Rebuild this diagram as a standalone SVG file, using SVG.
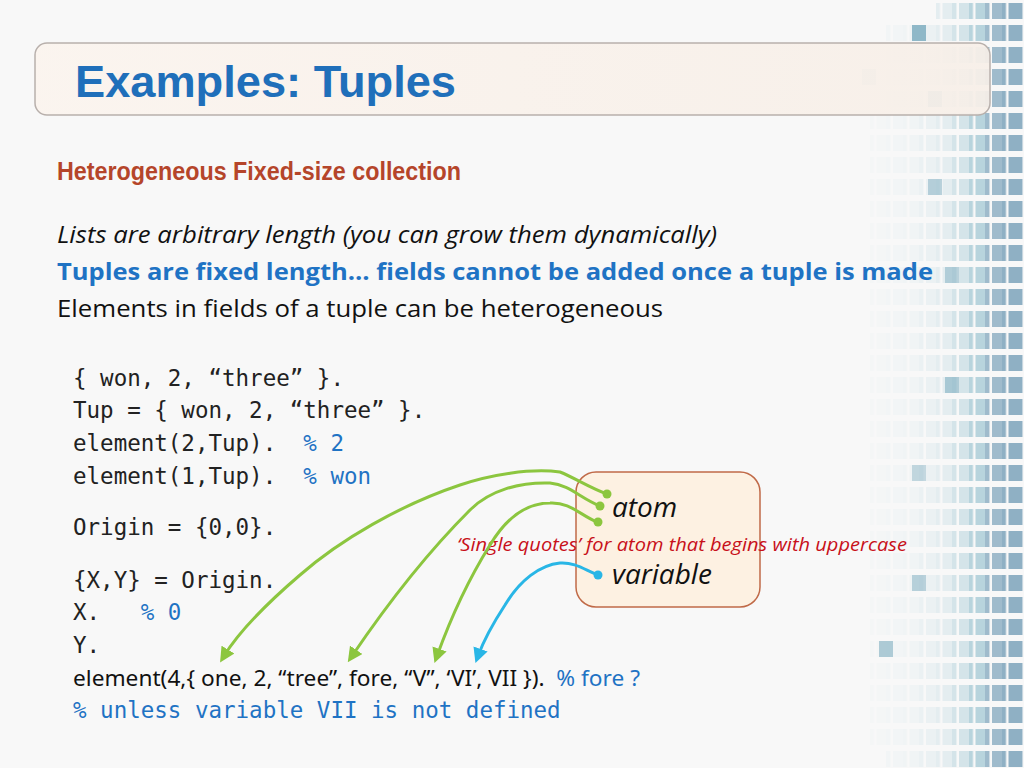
<svg xmlns="http://www.w3.org/2000/svg" width="1024" height="768" viewBox="0 0 1024 768">
<defs>
<style>
text{white-space:pre}
.code{font-family:"DejaVu Sans Mono",monospace;font-size:22.5px;fill:#222}
.cm{fill:#1f73c4}
.body{font-family:"Open Sans","Noto Sans",sans-serif;font-size:24px;fill:#111}
.g{fill:none;stroke:#8cc63f;stroke-width:3;stroke-linecap:round}
.b{fill:none;stroke:#29b6e6;stroke-width:3;stroke-linecap:round}
</style>
<pattern id="cells" x="2" y="0" width="16.5" height="22" patternUnits="userSpaceOnUse"><rect x="0" y="3" width="14" height="16" fill="#8fb0c4"/></pattern>
<pattern id="cellsL" x="2" y="0" width="16.5" height="22" patternUnits="userSpaceOnUse"><rect x="0" y="3" width="14" height="16" fill="#a8cbd6"/></pattern>
<linearGradient id="tb" x1="0" x2="1"><stop offset="0" stop-color="#fbf4ee"/><stop offset="1" stop-color="#f7efe8"/></linearGradient>
<marker id="ag" viewBox="0 0 10 10" refX="5" refY="5" markerWidth="5" markerHeight="5" orient="auto-start-reverse"><path d="M0,0L10,5L0,10z" fill="#8cc63f"/></marker>
<marker id="ab" viewBox="0 0 10 10" refX="5" refY="5" markerWidth="5" markerHeight="5" orient="auto-start-reverse"><path d="M0,0L10,5L0,10z" fill="#29b6e6"/></marker>
</defs>
<rect width="1024" height="768" fill="#f8f8f8"/>
<g id="bg">
<rect x="1002" y="0" width="22" height="768" fill="url(#cells)"/>
<rect x="985" y="0" width="17" height="768" fill="url(#cells)" opacity="0.85"/>
<rect x="969" y="0" width="16" height="768" fill="url(#cellsL)" opacity="0.8"/>
<rect x="952" y="0" width="17" height="768" fill="url(#cellsL)" opacity="0.45"/>
<rect x="936" y="0" width="16" height="768" fill="url(#cellsL)" opacity="0.25"/>
<rect x="919" y="22" width="17" height="746" fill="url(#cellsL)" opacity="0.16"/>
<rect x="903" y="22" width="16" height="746" fill="url(#cellsL)" opacity="0.1"/>
<rect x="886" y="22" width="17" height="746" fill="url(#cellsL)" opacity="0.07"/>
<rect x="870" y="110" width="16" height="640" fill="url(#cellsL)" opacity="0.05"/>
<g fill="#8fb8c8">
<rect x="912" y="25" width="14" height="16"/><rect x="928" y="91" width="14" height="16" opacity="0.8"/><rect x="862" y="69" width="14" height="16" opacity="0.4"/>
<rect x="945" y="377" width="14" height="16" opacity="0.7"/><rect x="912" y="575" width="14" height="16" opacity="0.6"/><rect x="879" y="641" width="14" height="16" opacity="0.7"/>
<rect x="928" y="179" width="14" height="16" opacity="0.6"/><rect x="945" y="267" width="14" height="16" opacity="0.6"/><rect x="912" y="465" width="14" height="16" opacity="0.5"/>
</g>
</g>
<g id="title">
<rect x="35" y="43" width="955" height="72" rx="12" fill="url(#tb)" fill-opacity="0.92" stroke="#b8b0ac" stroke-width="1.5"/>
<text x="75" y="97" font-family="Liberation Sans,Arial,sans-serif" font-weight="bold" font-size="44" fill="#1f6fba" textLength="381" lengthAdjust="spacingAndGlyphs">Examples: Tuples</text>
</g>
<text x="57" y="180" font-family="Liberation Sans,sans-serif" font-weight="bold" font-size="26" fill="#b5452a" textLength="404" lengthAdjust="spacingAndGlyphs">Heterogeneous Fixed-size collection</text>
<text x="57" y="243" class="body" font-style="italic" textLength="660" lengthAdjust="spacingAndGlyphs">Lists are arbitrary length (you can grow them dynamically)</text>
<text x="57" y="280" class="body" font-weight="bold" style="fill:#1f73c4" textLength="876" lengthAdjust="spacingAndGlyphs">Tuples are fixed length… fields cannot be added once a tuple is made</text>
<text x="57" y="317" class="body" textLength="606" lengthAdjust="spacingAndGlyphs">Elements in fields of a tuple can be heterogeneous</text>
<g class="code">
<text x="73" y="386">{ won, 2, “three” }.</text>
<text x="73" y="418">Tup = { won, 2, “three” }.</text>
<text x="73" y="451">element(2,Tup).  <tspan class="cm">% 2</tspan></text>
<text x="73" y="484">element(1,Tup).  <tspan class="cm">% won</tspan></text>
<text x="73" y="535">Origin = {0,0}.</text>
<text x="73" y="588">{X,Y} = Origin.</text>
<text x="73" y="620">X.   <tspan class="cm">% 0</tspan></text>
<text x="73" y="653">Y.</text>
<text x="73" y="718" class="cm">% unless variable VII is not defined</text>
</g>
<text x="73" y="686" font-family="Noto Sans,Open Sans,sans-serif" font-size="22" fill="#111" textLength="567" lengthAdjust="spacingAndGlyphs">element(4,{ one, 2, “tree”, fore, “V”, ‘VI’, VII }).  <tspan fill="#1f73c4">% fore ?</tspan></text>
<g id="legend">
<rect x="576" y="472" width="184" height="135" rx="20" fill="#fdf1e2" stroke="#c06a48" stroke-width="1.5"/>
<text x="612" y="517" font-family="Open Sans,Noto Sans,sans-serif" font-style="italic" font-size="28" fill="#111">atom</text>
<text x="612" y="584" font-family="Open Sans,Noto Sans,sans-serif" font-style="italic" font-size="28" fill="#111">variable</text>
</g>
<text x="457" y="551" font-family="Open Sans,Noto Sans,sans-serif" font-style="italic" font-size="19" fill="#c8101a" textLength="450" lengthAdjust="spacingAndGlyphs">‘Single quotes’ for atom that begins with uppercase</text>
<g id="connectors">
<path class="g" marker-end="url(#ag)" d="M607,494 C590,488 575,478 560,472 C530,468 490,475 460,485 C400,505 340,540 300,575 C265,605 240,630 224,656"/>
<path class="g" marker-end="url(#ag)" d="M600,506 C580,498 570,485 550,483 C520,482 490,490 470,510 C430,550 390,600 352,656"/>
<path class="g" marker-end="url(#ag)" d="M597,522 C580,515 570,502 550,503 C525,503 505,520 490,545 C465,585 450,620 437,656"/>
<path class="b" marker-end="url(#ab)" d="M598,575 C585,570 575,562 560,563 C540,565 520,580 505,605 C490,628 482,645 478,656"/>
<g fill="#8cc63f"><circle cx="607" cy="494" r="4.5"/><circle cx="600" cy="506" r="4.5"/><circle cx="598" cy="522" r="4.5"/></g>
<circle cx="598" cy="575" r="4.5" fill="#29b6e6"/>
</g>
</svg>
